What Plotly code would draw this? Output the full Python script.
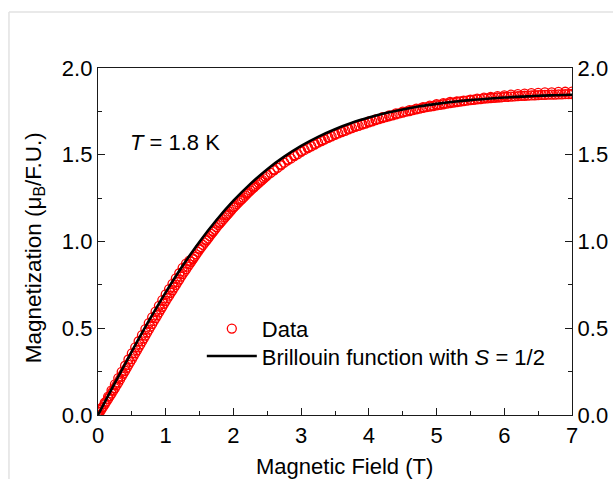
import plotly.graph_objects as go

# ---- data ----
# field sweep up (dense at low field where the curve is steep)
field_up = [
    0.000, 0.025, 0.050, 0.075, 0.100, 0.125, 0.150, 0.175, 0.200, 0.225,
    0.250, 0.275, 0.300, 0.325, 0.350, 0.375, 0.400, 0.425, 0.450, 0.475,
    0.500, 0.525, 0.550, 0.575, 0.600, 0.625, 0.650, 0.675, 0.700, 0.725,
    0.750, 0.775, 0.800, 0.825, 0.850, 0.875, 0.900, 0.925, 0.950, 0.975,
    1.000, 1.025, 1.050, 1.075, 1.100, 1.125, 1.150, 1.175, 1.200, 1.225,
    1.250, 1.275, 1.300, 1.325, 1.350, 1.375, 1.400, 1.425, 1.450, 1.475,
    1.500, 1.525, 1.550, 1.575, 1.600, 1.625, 1.650, 1.675, 1.700, 1.725,
    1.750, 1.775, 1.800, 1.825, 1.850, 1.875, 1.900, 1.925, 1.950, 1.975,
    2.000, 2.025, 2.050, 2.075, 2.100, 2.125, 2.150, 2.175, 2.200, 2.225,
    2.250, 2.275, 2.300, 2.325, 2.350, 2.375, 2.400, 2.425, 2.450, 2.475,
    2.50, 2.55, 2.60, 2.65, 2.70, 2.75, 2.80, 2.85, 2.90, 2.95,
    3.00, 3.05, 3.10, 3.15, 3.20, 3.25, 3.30, 3.35, 3.40, 3.45,
    3.50, 3.55, 3.60, 3.65, 3.70, 3.75, 3.80, 3.85, 3.90, 3.95,
    4.00, 4.05, 4.10, 4.15, 4.20, 4.25, 4.30, 4.35, 4.40, 4.45,
    4.50, 4.55, 4.60, 4.65, 4.70, 4.75, 4.80, 4.85, 4.90, 4.95,
    5.00, 5.05, 5.10, 5.15, 5.20, 5.25, 5.30, 5.35, 5.40, 5.45,
    5.50, 5.55, 5.60, 5.65, 5.70, 5.75, 5.80, 5.85, 5.90, 5.95,
    6.00, 6.05, 6.10, 6.15, 6.20, 6.25, 6.30, 6.35, 6.40, 6.45,
    6.50, 6.55, 6.60, 6.65, 6.70, 6.75, 6.80, 6.85, 6.90, 6.95,
    7.00,
]
magnetization_up = [
    0.000, 0.016, 0.031, 0.047, 0.062, 0.078, 0.093, 0.109, 0.124, 0.140,
    0.155, 0.172, 0.188, 0.205, 0.222, 0.239, 0.255, 0.272, 0.289, 0.306,
    0.322, 0.339, 0.356, 0.373, 0.390, 0.407, 0.424, 0.441, 0.458, 0.475,
    0.492, 0.509, 0.525, 0.542, 0.558, 0.575, 0.591, 0.608, 0.624, 0.641,
    0.657, 0.673, 0.688, 0.704, 0.719, 0.735, 0.750, 0.766, 0.781, 0.797,
    0.812, 0.826, 0.840, 0.855, 0.869, 0.883, 0.897, 0.912, 0.926, 0.940,
    0.954, 0.967, 0.980, 0.993, 1.005, 1.018, 1.031, 1.044, 1.056, 1.069,
    1.082, 1.094, 1.105, 1.116, 1.127, 1.139, 1.150, 1.161, 1.172, 1.184,
    1.195, 1.205, 1.215, 1.225, 1.235, 1.245, 1.254, 1.264, 1.274, 1.284,
    1.294, 1.303, 1.311, 1.320, 1.329, 1.338, 1.346, 1.355, 1.364, 1.373,
    1.381, 1.396, 1.410, 1.425, 1.439, 1.454, 1.467, 1.479, 1.492, 1.504,
    1.517, 1.528, 1.538, 1.549, 1.559, 1.570, 1.579, 1.588, 1.597, 1.606,
    1.615, 1.623, 1.631, 1.638, 1.646, 1.654, 1.661, 1.667, 1.674, 1.680,
    1.687, 1.693, 1.699, 1.705, 1.711, 1.717, 1.722, 1.727, 1.733, 1.738,
    1.743, 1.748, 1.752, 1.757, 1.761, 1.766, 1.770, 1.774, 1.777, 1.781,
    1.785, 1.788, 1.791, 1.795, 1.798, 1.801, 1.804, 1.807, 1.809, 1.812,
    1.815, 1.817, 1.819, 1.821, 1.823, 1.825, 1.827, 1.828, 1.830, 1.831,
    1.833, 1.834, 1.835, 1.837, 1.838, 1.839, 1.840, 1.841, 1.842, 1.843,
    1.844, 1.845, 1.845, 1.846, 1.846, 1.847, 1.848, 1.848, 1.849, 1.849,
    1.850,
]

# field sweep down
field_down = [
    7.0, 6.9, 6.8, 6.7, 6.6, 6.5, 6.4, 6.3, 6.2, 6.1,
    6.0, 5.9, 5.8, 5.7, 5.6, 5.5, 5.4, 5.3, 5.2, 5.1,
    5.0, 4.9, 4.8, 4.7, 4.6, 4.5, 4.4, 4.3, 4.2, 4.1,
    4.0, 3.9, 3.8, 3.7, 3.6, 3.5, 3.4, 3.3, 3.2, 3.1,
    3.0, 2.9, 2.8, 2.7, 2.6, 2.5, 2.4, 2.3, 2.2, 2.1,
    2.0, 1.9, 1.8, 1.7, 1.6, 1.5, 1.4,
    1.35, 1.30, 1.25, 1.20, 1.15, 1.10, 1.05, 1.00, 0.95, 0.90,
    0.85, 0.80, 0.75, 0.70, 0.65, 0.60, 0.55, 0.50, 0.45, 0.40,
    0.35, 0.30, 0.25, 0.20, 0.15, 0.10, 0.05, 0.00,
]
magnetization_down = [
    1.864, 1.863, 1.862, 1.860, 1.859, 1.857, 1.855, 1.852, 1.849, 1.846,
    1.842, 1.838, 1.834, 1.829, 1.823, 1.817, 1.812, 1.808, 1.804, 1.797,
    1.791, 1.783, 1.775, 1.766, 1.757, 1.748, 1.738, 1.727, 1.716, 1.704,
    1.692, 1.679, 1.666, 1.651, 1.636, 1.620, 1.602, 1.584, 1.564, 1.543,
    1.522, 1.497, 1.472, 1.444, 1.415, 1.386, 1.351, 1.316, 1.279, 1.240,
    1.200, 1.155, 1.110, 1.061, 1.010, 0.959, 0.902,
    0.890, 0.872, 0.848, 0.817, 0.787, 0.756, 0.726, 0.695, 0.662, 0.629,
    0.596, 0.563, 0.530, 0.495, 0.460, 0.425, 0.390, 0.355, 0.320, 0.284,
    0.248, 0.213, 0.177, 0.142, 0.106, 0.071, 0.040, 0.020,
]

# Brillouin function curve (S = 1/2)
field_fit = [
    0.00, 0.25, 0.50, 0.75, 1.00, 1.25, 1.50, 1.75, 2.00, 2.25,
    2.50, 2.75, 3.00, 3.25, 3.50, 3.75, 4.00, 4.25, 4.50, 4.75,
    5.00, 5.25, 5.50, 5.75, 6.00, 6.25, 6.50, 6.75, 7.00,
]
magnetization_fit = [
    0.000, 0.185, 0.367, 0.542, 0.707, 0.860, 0.999, 1.124, 1.235, 1.332,
    1.417, 1.489, 1.551, 1.603, 1.647, 1.684, 1.714, 1.740, 1.761, 1.779,
    1.793, 1.805, 1.815, 1.823, 1.830, 1.835, 1.840, 1.843, 1.846,
]

x_tick_values = [0, 1, 2, 3, 4, 5, 6, 7]
y_tick_values = [0.0, 0.5, 1.0, 1.5, 2.0]
y_tick_labels = ["0.0", "0.5", "1.0", "1.5", "2.0"]

FONT = "Liberation Sans, Arial, Helvetica, sans-serif"
AXIS_COLOR = "#1a1a1a"
RED = "#ff0000"

marker_style = dict(symbol="circle-open", size=9, color=RED,
                    line=dict(width=1.3, color=RED))

fig = go.Figure()
fig.add_trace(go.Scatter(x=field_up, y=magnetization_up, mode="markers",
                         name="Data", marker=marker_style, legend="legend"))
fig.add_trace(go.Scatter(x=field_down, y=magnetization_down, mode="markers",
                         name="Data", showlegend=False, marker=marker_style))
fig.add_trace(go.Scatter(x=field_fit, y=magnetization_fit, mode="lines",
                         name="Brillouin function with <i>S</i> = 1/2",
                         line=dict(color="black", width=2.6, shape="spline"),
                         yaxis="y2", legend="legend2"))

common_axis = dict(showline=True, linecolor=AXIS_COLOR, linewidth=1.3,
                   showgrid=False, zeroline=False, ticks="inside",
                   ticklen=7, tickwidth=1.2, tickcolor=AXIS_COLOR,
                   automargin=False,
                   tickfont=dict(family=FONT, size=22, color="black"))

legend_common = dict(xanchor="left", yanchor="top", itemwidth=50,
                     bgcolor="rgba(0,0,0,0)", font=dict(family=FONT, size=22),
                     tracegroupgap=0)

fig.update_layout(
    width=613, height=479,
    margin=dict(l=98, r=41, t=68, b=64, autoexpand=False),
    paper_bgcolor="white", plot_bgcolor="white",
    font=dict(family=FONT, size=22, color="black"),
    xaxis=dict(range=[0, 7], tickvals=x_tick_values, mirror=True,
               minor=dict(ticks="inside", ticklen=4, dtick=0.5, tick0=0,
                          tickcolor=AXIS_COLOR, tickwidth=1.2, showgrid=False),
               **common_axis),
    yaxis=dict(range=[0, 2], tickvals=y_tick_values, ticktext=y_tick_labels,
               minor=dict(ticks="inside", ticklen=4, dtick=0.25, tick0=0,
                          tickcolor=AXIS_COLOR, tickwidth=1.2, showgrid=False),
               **common_axis),
    yaxis2=dict(range=[0, 2], tickvals=y_tick_values, ticktext=y_tick_labels,
                overlaying="y", side="right",
                minor=dict(ticks="inside", ticklen=4, dtick=0.25, tick0=0,
                           tickcolor=AXIS_COLOR, tickwidth=1.2, showgrid=False),
                **common_axis),
    legend=dict(x=0.219, y=0.309, **legend_common),
    legend2=dict(x=0.219, y=0.230, **legend_common),
    showlegend=True,
)

# axis titles
fig.add_annotation(text="Magnetic Field (T)", xref="paper", yref="paper",
                   x=0.520, y=-0.147, xanchor="center", yanchor="middle",
                   showarrow=False, font=dict(family=FONT, size=22, color="black"))
fig.add_annotation(text="Magnetization (μ<sub>B</sub>/F.U.)", xref="paper", yref="paper",
                   x=-0.133, y=0.483, xanchor="center", yanchor="middle",
                   textangle=-90, showarrow=False,
                   font=dict(family=FONT, size=22.5, color="black"))

fig.add_annotation(text="<i>T</i> = 1.8 K", xref="paper", yref="paper",
                   x=0.063, y=0.784, xanchor="left", yanchor="middle",
                   showarrow=False, font=dict(family=FONT, size=22, color="black"))

# light page frame seen at the top and left of the reference image
frame = dict(color="#e2e2e2", width=1.5)
fig.add_shape(type="line", xref="paper", yref="paper",
              x0=-0.1878, y0=1.1614, x1=1.09, y1=1.1614, line=frame)
fig.add_shape(type="line", xref="paper", yref="paper",
              x0=-0.1878, y0=1.1614, x1=-0.1878, y1=-0.19, line=frame)

fig.write_html("out.html")
